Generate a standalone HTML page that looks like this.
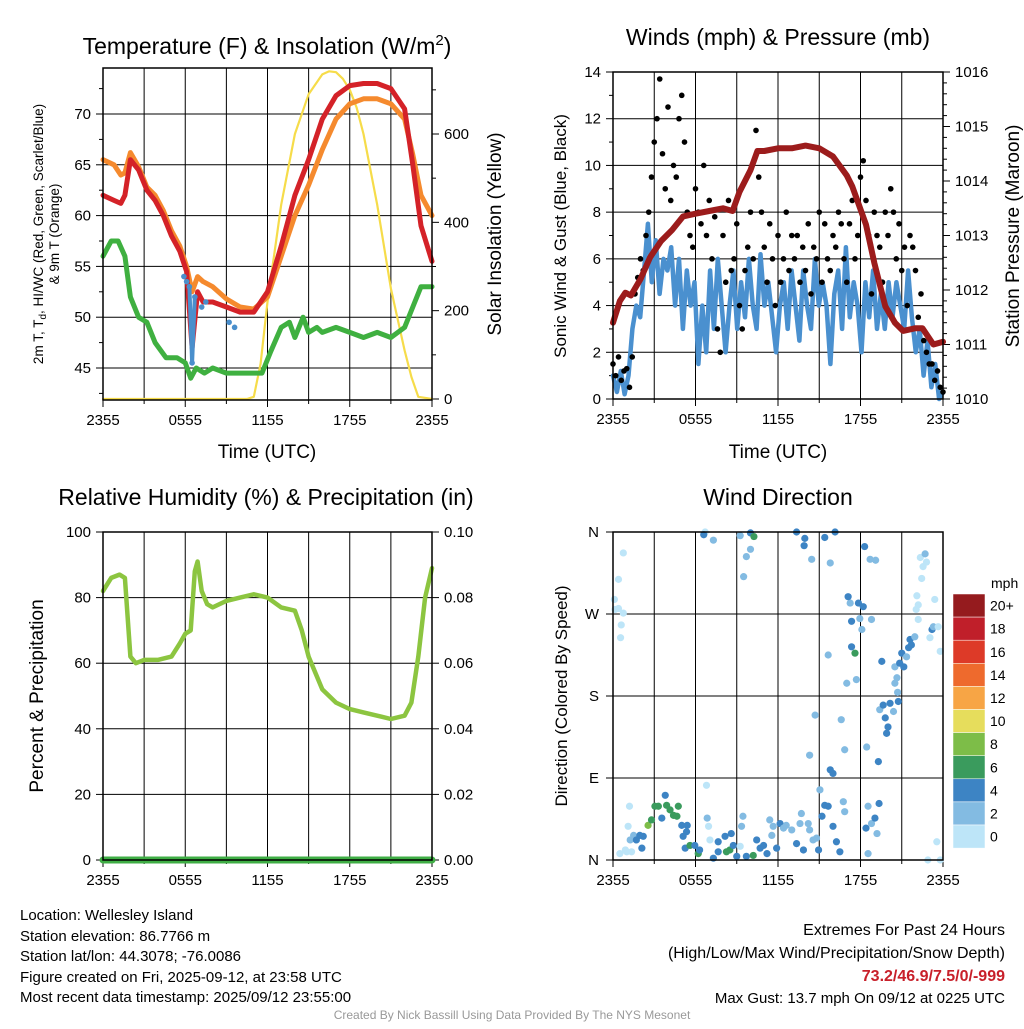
<!DOCTYPE html>
<html><head><meta charset="utf-8">
<style>
body{margin:0;background:#fff;}
svg text{font-family:"Liberation Sans",sans-serif;}
</style></head>
<body>
<svg id="c" width="1024" height="1024" xmlns="http://www.w3.org/2000/svg"></svg>
<script>
// ---------- data ----------
const tempTimes = [0,0.8,1.3,1.6,2.0,2.6,3.2,3.8,4.4,5.0,5.6,6.1,6.5,6.9,7.3,8,9,10,11,12,13,14,15,16,17,18,19,20,21,22,22.6,23.2,24];
const temp2m   = [62,61.5,61.2,62,65.5,64.5,62.5,61.5,60,58,56.5,54.5,47,52.5,51.5,51.5,51,50.5,50.5,52.5,57,62,65.5,69.5,71.8,72.8,73,73,72.5,70.5,65,59,55.5];
const temp9m   = [65.5,65,64,64.2,66.2,64.8,62.8,62,60.5,58.5,57,55,52.5,54,53.5,53,51.8,51,50.8,52,56,60,63,66.5,69.5,71,71.5,71.5,71,69.5,66,62,60];
const dewTimes = [0,0.6,1.1,1.6,2.0,2.6,3.2,3.8,4.6,5.4,6.0,6.4,6.8,7.4,8,9,10,11,11.6,12.2,13,13.6,14,14.6,15,15.6,16,17,18,19,20,21,22,22.6,23.2,24];
const dewPoint = [56,57.5,57.5,56,52,50,49.5,47.5,46,46,45.5,44,45,44.5,45,44.5,44.5,44.5,44.5,46.5,49,49.5,48,50,48.5,49,48.5,49,48.5,48,48.5,48,49,51,53,53];
const hiwcTimes = [5.9,6.1,6.3,6.5,6.7,7.2,7.5,9.2,9.6];
const hiwcVals  = [54,53.5,53,45.5,52,51,51.5,49.5,49];
const solarTimes = [0,10.5,11,11.5,12,12.5,13,14,15,16,16.5,17,17.5,18,18.5,19,20,21,22,22.5,23,24];
const solar      = [0,0,5,80,220,330,440,600,690,735,742,740,725,700,660,600,440,250,110,50,5,0];

// sustained wind, evenly spaced over 24 h
const windSpd = [1,0.3,1.2,0.2,1,3,4,3.5,5.5,
  7.5,5,6.8,4.5,6,5.5,6.5, 4,6,3,5.5,4,5,1.5, 4,2,5.5,3,6,4,2,
  4,5.5,3,5,3.5,6,4, 3,6.2,4,5,3.5,2,4, 5,3,5.5,4,2.5,5.5,4,
  3,6,4,5,4,1.5,4.5, 5.5,3,6.5,3.5,5,4,2, 5,3.5,5.5,3,4.5,3,5,
  3.5,5,4,3,5.5,3.5,2, 3,1,2.5,0.5,1.5,0,0.3];
// gusts, evenly spaced over 24 h
const gustSpd = [1.5,1,1.8,0.8,1.2,1.3,0.5,1.8,
  4.5,5.2,6,5.5,7,8,9.5,11,12,13.7,10.5,9,12.5,8.5,
  10,9.5,12,13,11,8,7,6.5,9,8,7.5,10,7,8.5,6,7.8,
  3,2,7,5,8.5,5.5,6,7.5,4,3,5.5,6.5,8,6,
  11.5,9.5,8,6.5,5,7.5,6,4,7,5,6,8,5.5,7,
  6,7,5,6.5,5.5,7.5,4.5,6.5,6,8,5,7.5,6,5.5,
  7,6.5,8,7.5,6,5,7.5,8.5,6,7,9.5,10.2,8.5,7,4.5,
  8,7,6.5,5,8,7,9,8,6,7.5,5.5,6.5,4,
  7,6.5,5.5,3.5,4.5,2.5,2,1.5,1.5,0.8,1.2,0.5,0.3];
const presTimes = [0,0.5,0.9,1.3,2,2.7,3.5,4.3,5.1,6,7,8,8.7,9.2,10,10.5,11,12,13,14,15,16,17,17.4,18.4,19,19.8,20.5,21.1,22,22.5,23.3,24];
const pressure  = [1011.4,1011.8,1011.95,1011.9,1012.2,1012.6,1012.9,1013.1,1013.35,1013.4,1013.45,1013.5,1013.45,1013.8,1014.2,1014.55,1014.55,1014.6,1014.6,1014.65,1014.6,1014.45,1014.1,1013.9,1013.2,1012.5,1011.7,1011.4,1011.25,1011.3,1011.3,1011.0,1011.05];

const rhTimes = [0,0.6,1.2,1.6,2.0,2.4,3,4,5,5.6,6,6.4,6.7,6.9,7.2,7.6,8,9,10,11,12,13,14,14.5,15,16,17,18,19,20,21,22,22.5,23,23.5,24];
const rhVals  = [82,86,87,86,62,60,61,61,62,66,69,70,88,91,82,78,77,79,80,81,80,77,76,70,62,52,48,46,45,44,43,44,48,62,80,89];
const precip  = [0,0];

const dirTimes = [0.75,0.4,0.1,0.4,0.75,0.6,0.55,0.15,
 0.5,1.0,1.35,0.9,1.25,1.1,1.2,1.5,1.7,1.95,2.2,2.1,2.55,2.8,3.05,3.3,3.55,3.8,3.9,4.15,4.4,4.65,4.75,5.0,5.4,5.35,5.1,5.25,5.6,5.95,6.2,6.3,6.8,6.85,6.95,7.05,7.3,7.65,7.65,8.15,8.25,8.5,8.6,8.75,9.0,9.25,9.45,9.35,9.7,10.2,10.45,10.7,10.95,11.2,11.4,11.55,11.65,11.9,12.15,12.4,12.6,13.0,13.35,13.6,13.7,13.85,14.2,14.3,14.55,14.8,14.95,15.05,15.2,15.4,15.65,16.0,16.25,16.5,16.75,16.85,18.4,18.55,18.55,18.8,19.05,19.2,19.35,22.9,23.55,23.8,
 14.3,14.7,15.8,16.0,16.6,16.85,17.0,17.7,18.45,19.3,19.55,15.65,17.35,17.6,18.8,18.1,17.95,18.2,17.85,17.25,17.1,17.35,
 19.4,19.65,19.8,19.9,20.0,20.15,20.4,20.5,20.65,20.75,20.7,20.5,20.85,21.0,21.15,21.35,21.5,21.6,21.7,21.95,23.2,23.3,23.65,23.05,23.8,22.2,22.05,22.2,22.1,23.4,22.45,22.55,22.35,22.7,22.8,
 6.7,6.6,7.3,9.25,10.0,10.25,10.0,9.7,9.5,13.35,13.95,13.9,14.45,15.4,16.15,15.8,18.3,18.7,19.1];
const dirDeg = [337,308,286,276,271,258,244,275,
 7,9,9,11,22,37,59,27,22,27,26,13,38,44,59,59,46,71,60,55,49,48,59,38,38,31,26,13,16,16,7,11,82,46,37,22,2,20,9,26,9,11,29,16,4,15,48,37,4,5,22,13,16,7,44,27,37,13,40,35,38,33,18,40,51,11,40,33,22,24,11,77,48,60,59,37,20,9,64,53,35,59,7,40,46,29,62,0,20,0,
 115,159,99,95,154,121,194,198,124,108,218,225,234,227,264,253,265,278,282,282,289,262,
 165,170,156,139,146,172,163,194,200,174,184,212,216,227,212,223,233,242,236,245,253,256,256,244,229,264,275,280,290,286,309,322,332,336,327,
 360,357,351,356,359,355,341,333,311,360,353,345,330,354,360,326,344,330,329];
const dirSpd = [1,1,1,1,1,1,1,1,
 1,1,1,1,3,1,1,3,5,5,5,5,9,7,7,7,5,5,7,7,7,7,7,5,5,5,5,5,7,5,7,5,1,3,1,1,5,5,5,5,7,7,5,5,5,1,3,3,5,7,5,5,5,5,3,3,3,5,5,3,3,3,5,3,3,5,3,3,3,3,5,3,5,5,5,5,5,5,3,3,5,3,3,3,5,3,5,1,1,1,
 3,3,5,5,3,3,3,3,3,5,5,3,5,7,3,3,3,5,5,3,5,5,
 3,5,5,5,5,5,3,3,3,5,3,3,5,5,5,3,5,5,5,3,5,3,1,1,1,1,1,1,1,1,1,1,1,3,1,
 1,5,3,3,5,7,3,3,3,5,5,5,3,5,5,3,5,3,3];

const cbLabels = ["20+","18","16","14","12","10","8","6","4","2","0"];
const cbColors = ["#951b1e","#c01f2a","#dd3a28","#ee6a2d","#f7a545","#e6dd5c","#7dbd48","#3a9b5d","#3d84c4","#83bbe2","#bde5f8"];

// ---------- helpers ----------
const NS="http://www.w3.org/2000/svg";
const svg=document.getElementById('c');
function el(tag,attrs,parent){const e=document.createElementNS(NS,tag);for(const k in attrs)e.setAttribute(k,attrs[k]);(parent||svg).appendChild(e);return e;}
function txt(s,x,y,size,anchor,parent,extra){const t=el('text',Object.assign({x:x,y:y,'font-size':size,'text-anchor':anchor||'middle',fill:'#000'},extra||{}),parent);t.textContent=s;return t;}
function lin(d0,d1,r0,r1){return v=>r0+(v-d0)*(r1-r0)/(d1-d0);}
function poly(xs,ys,fx,fy,color,w,parent){let d='';for(let i=0;i<xs.length;i++)d+=(i?'L':'M')+fx(xs[i]).toFixed(1)+','+fy(ys[i]).toFixed(1);return el('path',{d:d,fill:'none',stroke:color,'stroke-width':w,'stroke-linejoin':'round','stroke-linecap':'round'},parent);}
function even(n){const a=[];for(let i=0;i<n;i++)a.push(i*24/(n-1));return a;}

function frame(g,x0,x1,y0,y1){
  const fx=lin(0,24,x0,x1);
  for(let h=3;h<24;h+=3){const l=el('line',{x1:fx(h),x2:fx(h),y1:y0,y2:y1,stroke:'#000','stroke-width':1},g);}
  const xt=['2355','0555','1155','1755','2355'];
  for(let i=0;i<5;i++){const h=i*6;el('line',{x1:fx(h),x2:fx(h),y1:y1,y2:y1+7,stroke:'#000'},g);
    const t=txt(xt[i],fx(h),y1+25,15,'middle',g);}
  for(let h=3;h<24;h+=6){el('line',{x1:fx(h),x2:fx(h),y1:y1,y2:y1+4,stroke:'#000'},g);}
  return fx;
}
function hgrid(g,x0,x1,ys){ys.forEach(y=>{const l=el('line',{x1:x0,x2:x1,y1:y,y2:y,stroke:'#000','stroke-width':1},g);});}
function border(g,x0,x1,y0,y1){const r=el('rect',{x:x0,y:y0,width:x1-x0,height:y1-y0,fill:'none',stroke:'#000','stroke-width':1.5},g);}

// ================= Panel 1: Temperature =================
(function(){
  const g=el('g',{});
  const x0=103,x1=432,y0=68,y1=400;
  const fy=lin(45,70,368,114), fs=lin(0,600,399,134);
  const fx=frame(g,x0,x1,y0,y1);
  const lt=[45,50,55,60,65,70];
  hgrid(g,x0,x1,lt.map(fy));
  lt.forEach(v=>{el('line',{x1:x0-7,x2:x0,y1:fy(v),y2:fy(v),stroke:'#000'},g);const t=txt(String(v),x0-12,fy(v)+5,15,'end',g);});
  for(let v=42.5;v<74;v+=5)el('line',{x1:x0-4,x2:x0,y1:fy(v),y2:fy(v),stroke:'#000'},g);
  [0,200,400,600].forEach(v=>{el('line',{x1:x1,x2:x1+7,y1:fs(v),y2:fs(v),stroke:'#000'},g);const t=txt(String(v),x1+12,fs(v)+5,15,'start',g);});
  [100,300,500,700].forEach(v=>el('line',{x1:x1,x2:x1+4,y1:fs(v),y2:fs(v),stroke:'#000'},g));
  let p=poly(solarTimes,solar,fx,fs,'#f6dc4a',2.2,g);
  p=poly(dewTimes,dewPoint,fx,fy,'#3fb040',5,g);
  p=poly(tempTimes,temp9m,fx,fy,'#f58a2e',5,g);
  p=poly(tempTimes,temp2m,fx,fy,'#d42228',5,g);
  hiwcTimes.forEach((t,i)=>{const c=el('circle',{cx:fx(t),cy:fy(hiwcVals[i]),r:2.8,fill:'#4a8fcc'},g);});
  p=poly(hiwcTimes.slice(2,5),hiwcVals.slice(2,5),fx,fy,'#4a8fcc',4,g);
  border(g,x0,x1,y0,y1);
  let t=el('text',{x:267,y:54,'font-size':23,'text-anchor':'middle'},g);t.innerHTML='Temperature (F) &amp; Insolation (W/m<tspan dy="-9" font-size="15">2</tspan><tspan dy="9">)</tspan>';
  t=txt('Time (UTC)',267,458,19,'middle',g);
  t=el('text',{transform:'translate(43,234) rotate(-90)','font-size':13.5,'text-anchor':'middle'},g);t.innerHTML='2m T, T<tspan dy="3" font-size="10">d</tspan><tspan dy="-3">, HI/WC (Red, Green, Scarlet/Blue)</tspan>';
  t=el('text',{transform:'translate(59,234) rotate(-90)','font-size':13.5,'text-anchor':'middle'},g);t.textContent='& 9m T (Orange)';
  t=el('text',{transform:'translate(501,234) rotate(-90)','font-size':19,'text-anchor':'middle'},g);t.textContent='Solar Insolation (Yellow)';
})();

// ================= Panel 2: Winds =================
(function(){
  const g=el('g',{});
  const x0=613,x1=943,y0=72,y1=399;
  const fy=lin(0,14,399,72), fp=lin(1010,1016,399,72);
  const fx=frame(g,x0,x1,y0,y1);
  const lt=[0,2,4,6,8,10,12,14];
  hgrid(g,x0,x1,lt.map(fy));
  lt.forEach(v=>{el('line',{x1:x0-7,x2:x0,y1:fy(v),y2:fy(v),stroke:'#000'},g);const t=txt(String(v),x0-12,fy(v)+5,15,'end',g);});
  for(let v=1;v<14;v+=2)el('line',{x1:x0-4,x2:x0,y1:fy(v),y2:fy(v),stroke:'#000'},g);
  [1010,1011,1012,1013,1014,1015,1016].forEach(v=>{el('line',{x1:x1,x2:x1+7,y1:fp(v),y2:fp(v),stroke:'#000'},g);const t=txt(String(v),x1+12,fp(v)+5,15,'start',g);});
  for(let v=1010.2;v<1016;v+=0.2)el('line',{x1:x1,x2:x1+4,y1:fp(v),y2:fp(v),stroke:'#000'},g);
  let p=poly(even(windSpd.length),windSpd,fx,fy,'#4a90cf',4.5,g);
  const gt=even(gustSpd.length);
  gt.forEach((t,i)=>{const c=el('circle',{cx:fx(t),cy:fy(gustSpd[i]),r:2.8,fill:'#000'},g);});
  p=poly(presTimes,pressure,fx,fp,'#9c1c1c',6,g);
  border(g,x0,x1,y0,y1);
  let t=txt('Winds (mph) & Pressure (mb)',778,45,23,'middle',g);
  t=txt('Time (UTC)',778,458,19,'middle',g);
  t=el('text',{transform:'translate(566,236) rotate(-90)','font-size':17,'text-anchor':'middle'},g);t.textContent='Sonic Wind & Gust (Blue, Black)';
  t=el('text',{transform:'translate(1019,236) rotate(-90)','font-size':19,'text-anchor':'middle'},g);t.textContent='Station Pressure (Maroon)';
})();

// ================= Panel 3: RH =================
(function(){
  const g=el('g',{});
  const x0=103,x1=432,y0=532,y1=860;
  const fy=lin(0,100,860,532), fr=lin(0,0.1,860,532);
  const fx=frame(g,x0,x1,y0,y1);
  const lt=[0,20,40,60,80,100];
  hgrid(g,x0,x1,lt.map(fy));
  lt.forEach(v=>{el('line',{x1:x0-7,x2:x0,y1:fy(v),y2:fy(v),stroke:'#000'},g);const t=txt(String(v),x0-12,fy(v)+5,15,'end',g);});
  ['0.00','0.02','0.04','0.06','0.08','0.10'].forEach(s=>{const v=parseFloat(s);el('line',{x1:x1,x2:x1+7,y1:fr(v),y2:fr(v),stroke:'#000'},g);const t=txt(s,x1+12,fr(v)+5,15,'start',g);});
  let p=poly(rhTimes,rhVals,fx,fy,'#8cc540',4.5,g);
  p=poly([0,24],precip,fx,fr,'#3fae45',7,g);
  border(g,x0,x1,y0,y1);
  let t=txt('Relative Humidity (%) & Precipitation (in)',266,505,23,'middle',g);
  t=el('text',{transform:'translate(43,696) rotate(-90)','font-size':19,'text-anchor':'middle'},g);t.textContent='Percent & Precipitation';
})();

// ================= Panel 4: Wind direction =================
(function(){
  const g=el('g',{});
  const x0=613,x1=943,y0=532,y1=860;
  const fy=lin(0,360,860,532);
  const fx=frame(g,x0,x1,y0,y1);
  const lt=[0,90,180,270,360], ll=['N','E','S','W','N'];
  hgrid(g,x0,x1,lt.map(fy));
  lt.forEach((v,i)=>{el('line',{x1:x0-7,x2:x0,y1:fy(v),y2:fy(v),stroke:'#000'},g);const t=txt(ll[i],x0-14,fy(v)+5,15,'end',g);});
  function col(s){let i=Math.floor(s/2);if(i>10)i=10;return cbColors[10-i];}
  dirTimes.forEach((t,i)=>{const c=el('circle',{cx:fx(t),cy:fy(dirDeg[i]),r:3.6,fill:col(dirSpd[i])},g);});
  border(g,x0,x1,y0,y1);
  let t=txt('Wind Direction',778,505,23,'middle',g);
  t=el('text',{transform:'translate(567,696) rotate(-90)','font-size':17,'text-anchor':'middle'},g);t.textContent='Direction (Colored By Speed)';
  const cb=el('g',{});
  const top=594,h=23.1;
  cbColors.forEach((c,i)=>{const r=el('rect',{x:953,y:top+i*h,width:32,height:h,fill:c,stroke:'#fff','stroke-width':0.5},cb);
    const t=txt(cbLabels[i],990,top+i*h+h/2+5,14,'start',cb);});
  t=txt('mph',991,588,14,'start',cb);
})();

// ================= Footer text =================
(function(){
  const info=['Location: Wellesley Island','Station elevation: 86.7766 m','Station lat/lon: 44.3078; -76.0086','Figure created on Fri, 2025-09-12, at 23:58 UTC','Most recent data timestamp: 2025/09/12 23:55:00'];
  const ys=[920,941,961,982,1002];
  info.forEach((s,i)=>{const t=txt(s,20,ys[i],15,'start');});
  let t=txt('Extremes For Past 24 Hours',1005,935,16,'end');
  t=txt('(High/Low/Max Wind/Precipitation/Snow Depth)',1005,958,16,'end');
  t=txt('73.2/46.9/7.5/0/-999',1005,981,16,'end',null,{fill:'#c8202a','font-weight':'bold'});
  t=txt('Max Gust: 13.7 mph On 09/12 at 0225 UTC',1005,1003,15,'end');
  t=txt('Created By Nick Bassill Using Data Provided By The NYS Mesonet',512,1019,12,'middle',null,{fill:'#999'});
})();
</script>
</body></html>
